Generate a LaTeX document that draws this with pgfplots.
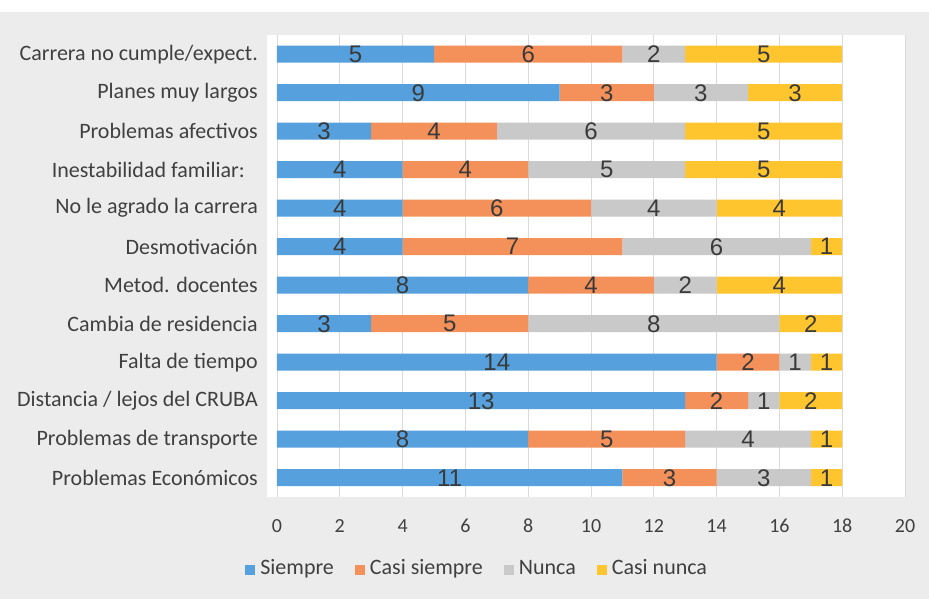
\documentclass[border=0pt]{standalone}
\usepackage{fontspec}
\setmainfont{Carlito}
\newfontfamily\numfont{Liberation Sans}
\usepackage{pgfplots}
\usepackage{pgfplotstable}
\pgfplotsset{compat=1.18}
\definecolor{cA}{HTML}{55A0DD}
\definecolor{cB}{HTML}{F4915A}
\definecolor{cC}{HTML}{C9C9C9}
\definecolor{cD}{HTML}{FFC52F}
\definecolor{mbg}{HTML}{ECECEC}
\definecolor{gridc}{HTML}{DADADA}
\definecolor{txt}{HTML}{404040}
\definecolor{numc}{HTML}{3A3A3A}
\pgfplotstableread{
idx a b c d
0 11 3 3 1
1 8 5 4 1
2 13 2 1 2
3 14 2 1 1
4 3 5 8 2
5 8 4 2 4
6 4 7 6 1
7 4 6 4 4
8 4 4 5 5
9 3 4 6 5
10 9 3 3 3
11 5 6 2 5
}\data
\begin{document}
\begin{tikzpicture}[x=1pt,y=1pt]
\fill[mbg] (0,0) rectangle (929,599);
\fill[white] (0,587) rectangle (929,599);
\fill[white] (267,102) rectangle (905,564);
\useasboundingbox (0,0) rectangle (929,599);
\begin{axis}[
  at={(277pt,102pt)}, anchor=south west,
  width=628pt, height=462pt, scale only axis,
  xmin=0, xmax=20, ymin=-0.5, ymax=11.5,
  xbar stacked, bar width=17pt,
  xtick={0,2,...,20}, ytick={0,...,11},
  yticklabels={Problemas Económicos, Problemas de transporte, Distancia / lejos del CRUBA, Falta de tiempo, Cambia de residencia, Metod. docentes, Desmotivación, No le agrado la carrera, {Inestabilidad familiar:\kern13pt\null}, Problemas afectivos, Planes muy largos, Carrera no cumple/expect.},
  axis line style={draw=none},
  major tick length=0pt,
  xmajorgrids, major grid style={color=gridc, line width=0.8pt},
  /pgf/number format/assume math mode=true,
  xticklabel style={font=\fontsize{20}{20}\selectfont, text=txt, anchor=base, yshift=-36pt},
  yticklabel style={font=\fontsize{22}{22}\selectfont, text=txt, anchor=east, inner sep=0pt, xshift=-19pt},
  legend columns=4,
  legend style={at={(0.318,-0.158)}, anchor=center, draw=none, fill=none, font=\fontsize{22}{22}\selectfont, text=txt,
    nodes={text height=15pt, text depth=5pt, inner sep=1pt},
    /tikz/every odd column/.append style={column sep=4pt},
    /tikz/every even column/.append style={column sep=20pt}},
  legend image code/.code={\fill[#1,draw=none] (0pt,-5pt) rectangle (10pt,5pt);},
]
\addplot[fill=cA, draw=none] table[x=a, y=idx] {\data};
\addplot[fill=cB, draw=none] table[x=b, y=idx] {\data};
\addplot[fill=cC, draw=none] table[x=c, y=idx] {\data};
\addplot[fill=cD, draw=none] table[x=d, y=idx] {\data};
\legend{Siempre, Casi siempre, Nunca, Casi nunca}
\end{axis}
\begin{axis}[
  at={(277pt,102pt)}, anchor=south west,
  width=628pt, height=462pt, scale only axis,
  xmin=0, xmax=20, ymin=-0.5, ymax=11.5, hide axis,
  nodes near coords, point meta=explicit symbolic,
  every node near coord/.style={anchor=center, font=\numfont\fontsize{24}{24}\selectfont, text=numc},
  nodes near coords={\pgfplotspointmeta},
]
\addplot[only marks, mark=none] table[x expr=\thisrow{a}/2, y=idx, meta=a] {\data};
\addplot[only marks, mark=none] table[x expr=\thisrow{a}+\thisrow{b}/2, y=idx, meta=b] {\data};
\addplot[only marks, mark=none] table[x expr=\thisrow{a}+\thisrow{b}+\thisrow{c}/2, y=idx, meta=c] {\data};
\addplot[only marks, mark=none] table[x expr=\thisrow{a}+\thisrow{b}+\thisrow{c}+\thisrow{d}/2, y=idx, meta=d] {\data};
\end{axis}
\end{tikzpicture}
\end{document}
